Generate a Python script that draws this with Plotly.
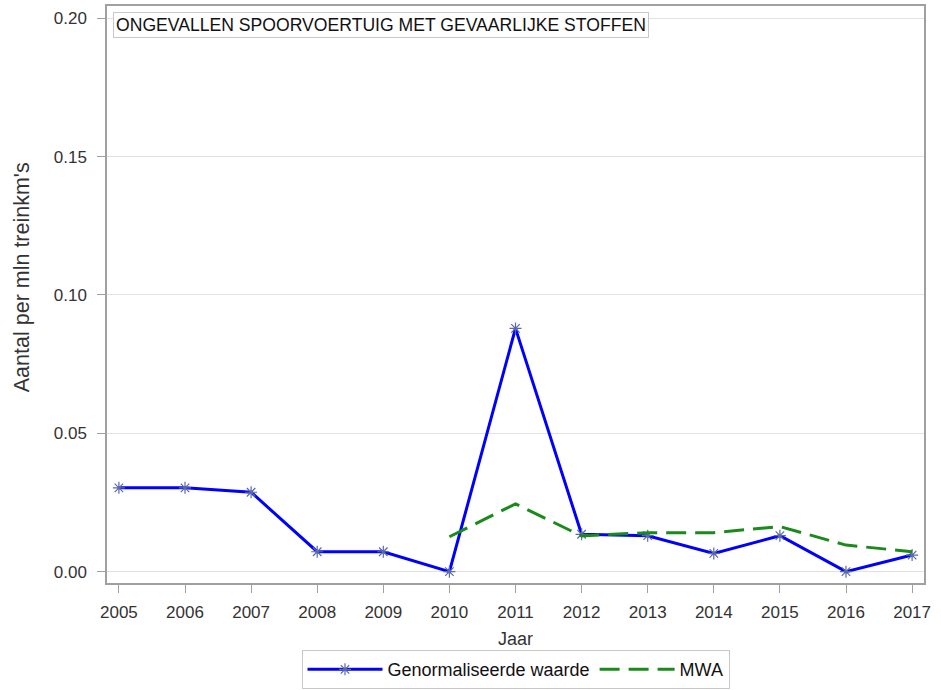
import plotly.graph_objects as go

years = [2005, 2006, 2007, 2008, 2009, 2010, 2011, 2012, 2013, 2014, 2015, 2016, 2017]
genormaliseerd = [0.0303, 0.0303, 0.0287, 0.0072, 0.0072, 0.0, 0.0879, 0.0135, 0.0130, 0.0066, 0.0130, 0.0, 0.0060]
mwa_years = [2010, 2011, 2012, 2013, 2014, 2015, 2016, 2017]
mwa = [0.0126, 0.0245, 0.0129, 0.0141, 0.0141, 0.0163, 0.0096, 0.0072]
y_ticks = [0.00, 0.05, 0.10, 0.15, 0.20]
y_ticklabels = ["0.00", "0.05", "0.10", "0.15", "0.20"]

FONT = "Liberation Sans, Arial, sans-serif"

fig = go.Figure()
fig.add_trace(go.Scatter(
    x=years, y=genormaliseerd, mode="lines+markers", name="Genormaliseerde waarde",
    line=dict(color="#0000ff", width=3),
    marker=dict(symbol="asterisk-open", size=10, color="#5a6aa8",
                line=dict(color="#5a6aa8", width=1.2)),
))
fig.add_trace(go.Scatter(
    x=mwa_years, y=mwa, mode="lines", name="MWA",
    line=dict(color="#1a8a1a", width=3, dash="20px,9px"),
))

fig.add_annotation(
    text="ONGEVALLEN SPOORVOERTUIG MET GEVAARLIJKE STOFFEN",
    xref="paper", yref="paper", x=0.0073, y=0.9896, xanchor="left", yanchor="top",
    showarrow=False, font=dict(family=FONT, size=17.6, color="#111"),
    bordercolor="#c8c8c8", borderwidth=1, borderpad=2, bgcolor="white",
)
fig.add_annotation(
    text="Aantal per mln treinkm's", textangle=-90,
    xref="paper", yref="paper", x=-0.104, y=0.530, xanchor="center", yanchor="middle",
    showarrow=False, font=dict(family=FONT, size=21.5, color="#333"),
)

fig.update_layout(
    width=941, height=690,
    margin=dict(l=107, r=17, t=6, b=107, autoexpand=False),
    paper_bgcolor="white", plot_bgcolor="white",
    font=dict(family=FONT, size=17, color="#333"),
    showlegend=True,
    legend=dict(orientation="h", x=0.5, xanchor="center", y=-0.184, yanchor="bottom",
                bordercolor="#c8c8c8", borderwidth=1, font=dict(size=18, color="#111"),
                tracegroupgap=0, itemwidth=75),
    xaxis=dict(
        range=[2004.82, 2017.18], tickmode="array", tickvals=years,
        ticktext=[str(y) for y in years], automargin=False,
        showgrid=False, zeroline=False,
        showline=True, linecolor="#a0a0a0", linewidth=1.5, mirror=True,
        ticks="outside", ticklen=8, tickcolor="#a0a0a0",
        tickfont=dict(size=17, color="#333"), ticklabelstandoff=5,
        title=dict(text="Jaar", font=dict(size=18, color="#333"), standoff=11),
    ),
    yaxis=dict(
        range=[-0.0041, 0.2044], tickmode="array", tickvals=y_ticks, ticktext=y_ticklabels,
        automargin=False,
        showgrid=True, gridcolor="#e2e2e2", gridwidth=1, zeroline=False,
        showline=True, linecolor="#a0a0a0", linewidth=1.5, mirror=True,
        ticks="outside", ticklen=8, tickcolor="#a0a0a0",
        tickfont=dict(size=17, color="#333"), ticklabelstandoff=7,
    ),
)

fig.write_html("out.html", config={"displayModeBar": False},
               post_script="document.body.style.margin='0px';")
